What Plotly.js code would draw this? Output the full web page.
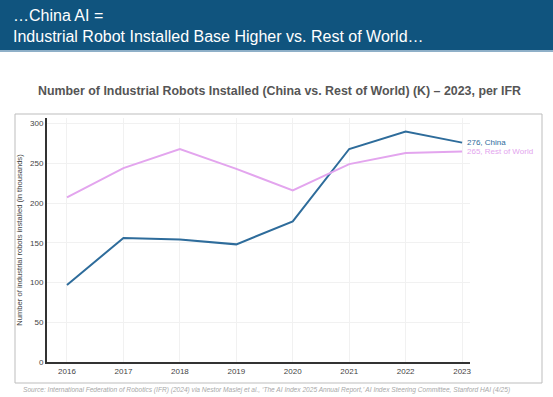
<!DOCTYPE html>
<html><head><meta charset="utf-8">
<script src="https://cdn.plot.ly/plotly-3.0.1.min.js"></script>
<style>html,body{margin:0;padding:0;background:#fff}#chart{width:553px;height:397px}</style>
</head><body><div id="chart"></div>
<script>
const years = [2016, 2017, 2018, 2019, 2020, 2021, 2022, 2023];
const china = [97, 156, 154, 148, 177, 268, 290, 276];
const restOfWorld = [207, 244, 268, 243, 216, 249, 263, 265];
const yTicks = [0, 50, 100, 150, 200, 250, 300];
const seriesNames = ['China', 'Rest of World'];
const seriesColors = ['#2e6c9b', '#e3a5ee'];

const traces = [
  {x: years, y: china, name: seriesNames[0], mode: 'lines', line: {color: seriesColors[0], width: 2}},
  {x: years, y: restOfWorld, name: seriesNames[1], mode: 'lines', line: {color: seriesColors[1], width: 2}}
];
const last = years.length - 1;
const layout = {
  width: 553, height: 397,
  margin: {l: 47, r: 83, t: 118, b: 35},
  paper_bgcolor: '#fff', plot_bgcolor: '#fff',
  showlegend: false,
  font: {family: 'Liberation Sans, Arial, sans-serif', color: '#333'},
  xaxis: {range: [2015.646, 2023.14], tickvals: years, ticktext: years.map(String),
    showgrid: true, gridcolor: '#f1f1f1', zeroline: false,
    showline: true, linecolor: '#333', linewidth: 2, ticks: '', tickfont: {size: 8, color: '#444'}},
  yaxis: {range: [0, 307], tickvals: yTicks, showgrid: true, gridcolor: '#f1f1f1', zeroline: false,
    showline: true, linecolor: '#333', linewidth: 2, ticks: '', ticklen: 0, tickfont: {size: 8, color: '#444'},
    title: {text: 'Number of industrial robots installed (in thousands)', font: {size: 7.6, color: '#444'}, standoff: 6}},
  shapes: [
    {type: 'rect', xref: 'paper', yref: 'paper', x0: -47/423, x1: 506/423, y0: 1 + 118/244, y1: 1 + 118/244 - 50/244,
      fillcolor: '#10547e', line: {width: 0}, layer: 'below'},
    {type: 'rect', xref: 'paper', yref: 'paper', x0: -47/423, x1: 506/423, y0: 1 + 118/244 - 50/244, y1: 1 + 118/244 - 52/244,
      fillcolor: '#8fb0c8', line: {width: 0}, layer: 'below'},
    {type: 'rect', xref: 'paper', yref: 'paper', x0: -32/423, x1: 495/423, y0: 1 + 4/244, y1: -21/244,
      fillcolor: 'rgba(0,0,0,0)', line: {color: '#bdbdbd', width: 1}, layer: 'below'}
  ],
  annotations: [
    {xref: 'paper', yref: 'paper', x: -36/423, y: 1 + 118/244 - 5/244, xanchor: 'left', yanchor: 'top', align: 'left',
      text: '…China AI =<br>Industrial Robot Installed Base Higher vs. Rest of World…', showarrow: false,
      font: {size: 16, color: '#ffffff', family: 'Liberation Sans, Arial, sans-serif'}},
    {xref: 'paper', yref: 'paper', x: 232/423, y: 1 + 27/244, xanchor: 'center', yanchor: 'middle',
      text: '<b>Number of Industrial Robots Installed (China vs. Rest of World) (K) – 2023, per IFR</b>', showarrow: false,
      font: {size: 12.4, color: '#555555'}},
    {x: years[last], y: china[last], xanchor: 'left', yanchor: 'middle', xshift: 3,
      text: china[last] + ', ' + seriesNames[0], showarrow: false, font: {size: 8, color: seriesColors[0]}},
    {x: years[last], y: restOfWorld[last], xanchor: 'left', yanchor: 'middle', xshift: 3,
      text: restOfWorld[last] + ', ' + seriesNames[1], showarrow: false, font: {size: 8, color: seriesColors[1]}},
    {xref: 'paper', yref: 'paper', x: 219/423, y: -28/244, xanchor: 'center', yanchor: 'middle',
      text: '<i>Source: International Federation of Robotics (IFR) (2024) via Nestor Maslej et al., \u2018The AI Index 2025 Annual Report,\u2019 AI Index Steering Committee, Stanford HAI (4/25)</i>',
      showarrow: false, font: {size: 6.6, color: '#a8a8a8'}}
  ]
};
Plotly.newPlot('chart', traces, layout, {displayModeBar: false, staticPlot: true});
</script></body></html>
